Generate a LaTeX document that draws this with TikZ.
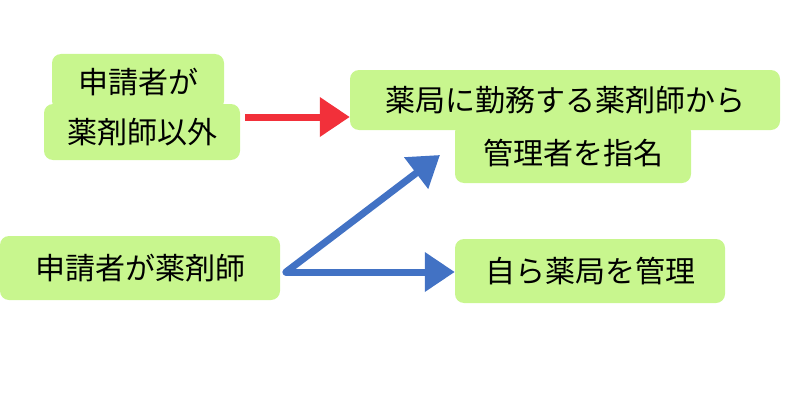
\documentclass[tikz,border=0pt]{standalone}
\usepackage{fontspec}
\newfontfamily\cjk{Noto Sans CJK JP}
\usetikzlibrary{arrows.meta}
\definecolor{bx}{HTML}{C8F68E}
\definecolor{ar}{HTML}{F2303A}
\definecolor{ab}{HTML}{4272C4}
\begin{document}
\begin{tikzpicture}[x=1pt,y=-1pt,
  lb/.style={fill=bx,rounded corners=9pt,font=\cjk\fontsize{30}{30}\selectfont,inner xsep=10pt,inner ysep=10pt,anchor=center},
  arr/.style={line width=7pt,-{Triangle[length=30pt,width=38pt]}}]
\useasboundingbox (0,0) rectangle (800,420);
\node[lb,minimum width=172pt,minimum height=56pt] (a1) at (138,82) {申請者が};
\node[lb,minimum width=196pt,minimum height=56pt] (a2) at (142,132) {薬剤師以外};
\node[lb,minimum width=430pt,minimum height=60pt] (b1) at (565,100) {薬局に勤務する薬剤師から};
\node[lb,minimum width=236pt,minimum height=60pt] (b2) at (573,153) {管理者を指名};
\node[lb,minimum width=280pt,minimum height=64pt] (c) at (140,268) {申請者が薬剤師};
\node[lb,minimum width=270pt,minimum height=64pt] (d) at (590,271) {自ら薬局を管理};
\coordinate (s) at (286,272);
\draw[arr,ar] (245,117) -- (b1.west |- 0,117);
\draw[arr,ab,line cap=round] (s) -- (440,155);
\draw[arr,ab,line cap=round] (s) -- (d.west |- s);
\end{tikzpicture}
\end{document}
